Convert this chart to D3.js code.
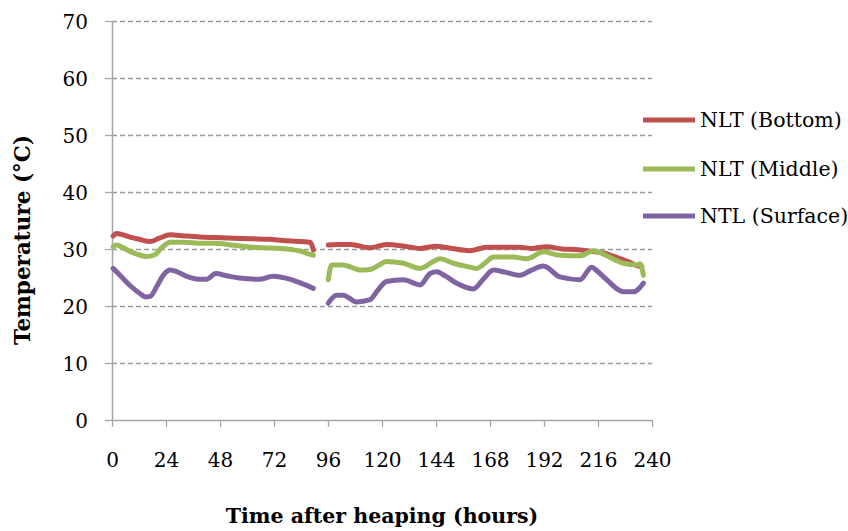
<!DOCTYPE html>
<html>
<head>
<meta charset="utf-8">
<script src="https://cdn.jsdelivr.net/npm/d3@7"></script>
<style>
	body { margin: 0; background: #fff; }
	svg { display: block; }
</style>
</head>
<body>
<script>

// ---- data (hours, temperature in deg C) ----
// null = logger gap between ~90 h and ~96 h
var bottomHours = [0.5, 2, 4, 8, 12, 17, 21, 26, 32, 39, 46, 54, 62, 70, 76, 84, 88, 89.5, 92,
	96.1, 100, 106, 114.7, 122, 130, 137, 144, 151, 159, 166.5, 174, 181, 187, 193, 200, 206, 211, 218.4, 225.8, 230, 233.2, 235.5]
var bottomTemp = [32.3, 32.7, 32.6, 32.1, 31.7, 31.3, 31.9, 32.5, 32.3, 32.1, 32.0, 31.9, 31.8, 31.7, 31.5, 31.3, 31.2, 29.8, null,
	30.7, 30.8, 30.8, 30.2, 30.8, 30.5, 30.1, 30.5, 30.1, 29.7, 30.3, 30.3, 30.3, 30.1, 30.4, 30.0, 29.9, 29.7, 29.3, 28.3, 27.7, 27.1, 26.9]

var middleHours = [0.5, 2, 5, 9, 15.4, 19, 22, 25.8, 32, 40, 46, 53, 60, 67, 74.8, 80, 84, 87, 89.5, 92,
	96.1, 97.6, 102.8, 107, 110.2, 114.7, 118, 122, 129.5, 136.9, 142.8, 145.8, 151.7, 157, 162.1, 166, 169.5, 178.4, 184.3, 191.7, 199.1, 208, 214, 219.9, 224, 227.3, 233.2, 234.7, 236.2]
var middleTemp = [30.4, 30.7, 30.2, 29.4, 28.7, 29.0, 30.2, 31.2, 31.2, 31.0, 31.0, 30.7, 30.4, 30.2, 30.1, 29.9, 29.6, 29.2, 28.9, null,
	24.6, 27.2, 27.2, 26.7, 26.3, 26.4, 27.0, 27.8, 27.5, 26.6, 27.8, 28.3, 27.5, 27.0, 26.6, 27.6, 28.6, 28.6, 28.3, 29.5, 28.9, 28.8, 29.7, 28.8, 28.0, 27.5, 27.2, 27.4, 25.4]

var surfaceHours = [0.5, 4, 8, 12.4, 15, 17, 20, 23, 25.8, 29, 33.2, 39, 42, 46.2, 51, 56.6, 65.5, 71.5, 78.9, 84, 89.5, 92,
	96.1, 99.8, 102.8, 108.7, 114.7, 118, 122, 129.5, 136.9, 141.4, 144.3, 148, 153.2, 160.6, 165, 169.5, 175, 181.3, 186, 191.7, 199.1, 208, 213.2, 216, 219.9, 227.3, 231.7, 236.2]
var surfaceTemp = [26.6, 25.2, 23.6, 22.2, 21.6, 21.7, 23.5, 25.5, 26.3, 26.0, 25.2, 24.7, 24.7, 25.7, 25.3, 24.9, 24.7, 25.2, 24.7, 24.0, 23.1, null,
	20.5, 21.9, 21.9, 20.7, 21.1, 22.7, 24.3, 24.6, 23.7, 25.7, 26.0, 25.3, 24.0, 23.0, 24.7, 26.3, 25.9, 25.4, 26.2, 27.0, 25.1, 24.6, 26.8, 26.0, 24.6, 22.5, 22.5, 24.0]

var seriesNames = ['NLT (Bottom)', 'NLT (Middle)', 'NTL (Surface)']
var seriesColors = ['#c0504d', '#9bbb59', '#8064a2']
var xTicks = [0, 24, 48, 72, 96, 120, 144, 168, 192, 216, 240]
var yTicks = [0, 10, 20, 30, 40, 50, 60, 70]

var series = [
	{ name: seriesNames[0], color: seriesColors[0], hours: bottomHours, temp: bottomTemp },
	{ name: seriesNames[1], color: seriesColors[1], hours: middleHours, temp: middleTemp },
	{ name: seriesNames[2], color: seriesColors[2], hours: surfaceHours, temp: surfaceTemp }
]

// ---- layout ----
var W = 848, H = 531
var LEFT = 112, RIGHT = 652, TOP = 21, BOTTOM = 420
var AXISCOLOR = '#a6a6a6'
var FONT = 'DejaVu Serif'

var x = d3.scaleLinear().domain([0, 240]).range([LEFT, RIGHT])
var y = d3.scaleLinear().domain([0, 70]).range([BOTTOM, TOP])

var svg = d3.select('body')
	.append('svg')
	.attr('width', W)
	.attr('height', H)

// dashed horizontal gridlines (not at 0)
svg.append('g')
	.attr('transform', 'translate(' + LEFT + ',0)')
	.call(d3.axisLeft(y).tickValues(yTicks.filter(function(d) { return d > 0 })).tickSize(-(RIGHT - LEFT)).tickFormat(''))
	.call(function(g) {
		g.select('.domain').remove()
		g.selectAll('line')
			.attr('stroke', '#9a9a9a')
			.attr('stroke-width', 1.3)
			.attr('stroke-dasharray', '5,3')
	})

// y axis
svg.append('g')
	.attr('transform', 'translate(' + LEFT + ',0)')
	.call(d3.axisLeft(y).tickValues(yTicks).tickSize(7).tickSizeOuter(0))
	.call(function(g) {
		g.select('.domain').attr('stroke', AXISCOLOR).attr('stroke-width', 1.5)
		g.selectAll('line').attr('stroke', AXISCOLOR).attr('stroke-width', 1.3)
		g.selectAll('text')
			.attr('x', -24)
			.attr('dy', '0.36em')
			.attr('fill', '#000')
			.style('font-family', FONT)
			.style('font-size', '20px')
	})

// x axis
svg.append('g')
	.attr('transform', 'translate(0,' + BOTTOM + ')')
	.call(d3.axisBottom(x).tickValues(xTicks).tickSize(7).tickSizeOuter(0))
	.call(function(g) {
		g.select('.domain').attr('stroke', AXISCOLOR).attr('stroke-width', 1.5)
		g.selectAll('line').attr('stroke', AXISCOLOR).attr('stroke-width', 1.3)
		g.selectAll('text')
			.attr('y', 47)
			.attr('dy', 0)
			.attr('fill', '#000')
			.style('font-family', FONT)
			.style('font-size', '20px')
	})

// ---- lines ----
var line = d3.line()
	.defined(function(d) { return d[1] != null })
	.curve(d3.curveMonotoneX)
	.x(function(d) { return x(d[0]) })
	.y(function(d) { return y(d[1]) })

svg.selectAll('.series')
	.data(series)
	.enter()
	.append('path')
	.attr('class', 'series')
	.attr('fill', 'none')
	.attr('stroke', function(d) { return d.color })
	.attr('stroke-width', 5)
	.attr('stroke-linejoin', 'round')
	.attr('stroke-linecap', 'round')
	.attr('d', function(d) {
		return line(d.hours.map(function(h, i) { return [h, d.temp[i]] }))
	})

// ---- legend ----
var legend = svg.selectAll('.legend')
	.data(series)
	.enter()
	.append('g')
	.attr('class', 'legend')
	.attr('transform', function(d, i) { return 'translate(643,' + [120, 169, 216][i] + ')' })

legend.append('line')
	.attr('x1', 0).attr('x2', 52)
	.attr('stroke', function(d) { return d.color })
	.attr('stroke-width', 5)

legend.append('text')
	.attr('x', 57)
	.attr('dy', '0.36em')
	.style('font-family', FONT)
	.style('font-size', '20.5px')
	.text(function(d) { return d.name })

// ---- axis titles ----
svg.append('text')
	.attr('transform', 'translate(30,' + 240 + ') rotate(-90)')
	.attr('text-anchor', 'middle')
	.style('font-family', FONT)
	.style('font-weight', 'bold')
	.style('font-size', '21.5px')
	.text('Temperature (°C)')

svg.append('text')
	.attr('x', (LEFT + RIGHT) / 2)
	.attr('y', 523)
	.attr('text-anchor', 'middle')
	.style('font-family', FONT)
	.style('font-weight', 'bold')
	.style('font-size', '20.5px')
	.text('Time after heaping (hours)')

</script>
</body>
</html>
